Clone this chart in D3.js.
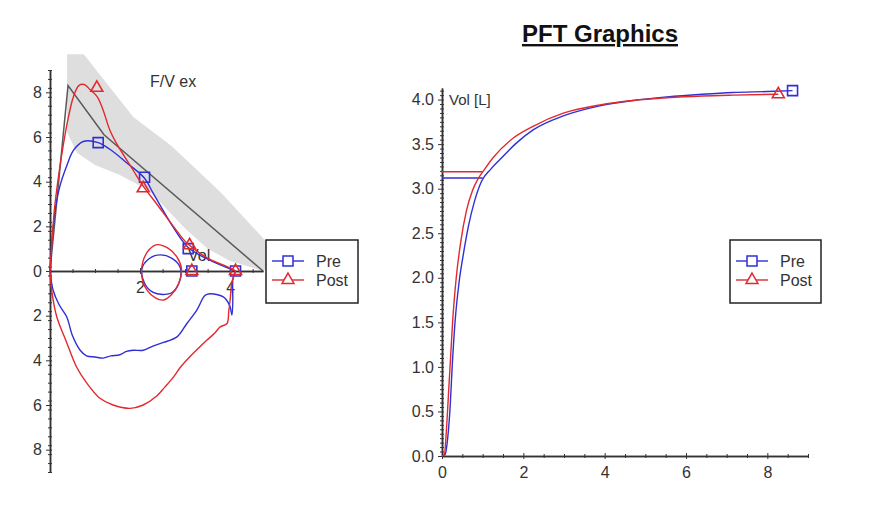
<!DOCTYPE html>
<html>
<head>
<meta charset="utf-8">
<script src="https://cdn.jsdelivr.net/npm/d3@7"></script>
<style>
  body { margin: 0; background: #fff; }
  svg { font-family: "Liberation Sans", Arial, sans-serif; }
  .tick text { fill: #333; font-size: 16px; }
  .axis path, .axis line { stroke: #333; }
</style>
</head>
<body>
<script>
// PFT Graphics: flow/volume loop (left) and volume/time curve (right)

// ---- flow / volume data (x = Vol [L], y = flow [L/s], inspiration negative)
let fvPreExp = [[0, 0], [0.05, 1.5], [0.12, 2.8], [0.22, 3.8], [0.37, 4.7], [0.52, 5.4], [0.74, 5.8], [1.07, 5.75],
  [1.33, 5.45], [1.7, 4.85], [2.1, 4.15], [2.3, 3.45], [2.74, 1.95], [3.07, 1.05], [3.48, 0.55], [3.9, 0.18], [4.12, 0]]
let fvPostExp = [[0, 0], [0.04, 1.2], [0.1, 2.8], [0.2, 4.4], [0.3, 5.7], [0.4, 6.8], [0.52, 7.8], [0.64, 8.3],
  [0.76, 8.35], [0.9, 8.1], [1.05, 7.8], [1.18, 7.2], [1.33, 6.3], [1.48, 5.7], [1.85, 4.5], [2.07, 3.8],
  [2.37, 3.0], [2.74, 2.0], [3.04, 1.25], [3.48, 0.6], [3.93, 0.2], [4.12, 0]]
let fvPreInsp = [[0, 0], [0.07, -0.86], [0.2, -1.5], [0.37, -2.05], [0.5, -2.9], [0.67, -3.55], [0.81, -3.8],
  [1.0, -3.85], [1.18, -3.9], [1.35, -3.8], [1.55, -3.75], [1.7, -3.6], [1.85, -3.55], [2.07, -3.55],
  [2.3, -3.35], [2.52, -3.2], [2.82, -2.95], [3.04, -2.35], [3.26, -1.75], [3.44, -1.1], [3.55, -1.02],
  [3.7, -1.05], [3.84, -1.15], [3.92, -1.3], [4.0, -1.6], [4.04, -1.97], [4.06, -1.2], [4.05, -0.5], [4.12, 0]]
let fvPostInsp = [[0, 0], [0.04, -0.9], [0.15, -2.05], [0.37, -3.2], [0.59, -4.3], [0.81, -5.0], [1.11, -5.7],
  [1.4, -6.0], [1.78, -6.15], [2.07, -6.0], [2.37, -5.6], [2.55, -5.2], [2.74, -4.75], [2.9, -4.3], [3.1, -3.85],
  [3.3, -3.45], [3.48, -3.1], [3.65, -2.8], [3.78, -2.5], [3.93, -2.35], [3.97, -1.8], [4.0, -1.3],
  [4.04, -0.5], [4.12, 0]]
let fvPreTidal = [[2.04, 0.1], [2.2, 0.55], [2.44, 0.72], [2.7, 0.58], [2.89, 0.17], [2.88, -0.45],
  [2.72, -0.95], [2.5, -1.05], [2.28, -0.95], [2.1, -0.55]]
let fvPostTidal = [[2.06, 0.4], [2.2, 0.95], [2.38, 1.18], [2.62, 1.02], [2.82, 0.62], [2.92, 0.1], [2.86, -0.55],
  [2.7, -1.05], [2.52, -1.3], [2.34, -1.2], [2.15, -0.85], [2.04, -0.25]]
let fvPreMarkers = [[1.07, 5.75], [2.1, 4.2], [3.07, 1.0], [3.15, 0], [4.12, 0]]
let fvPostMarkers = [[1.04, 8.2], [2.07, 3.7], [3.1, 1.15], [3.15, 0], [4.12, 0]]
// predicted curve and normal band
let fvPredicted = [[0, 0], [0.4, 8.3], [1.2, 6.1], [4.73, 0]]
let bandUpper = [[0.38, 9.7], [0.75, 9.7], [1.85, 6.9], [2.7, 5.6], [3.8, 3.5], [4.95, 1.0], [4.95, 0.3]]
let bandLower = [[0.38, 6.2], [0.6, 5.3], [1.0, 4.75], [1.55, 4.3], [2.2, 3.6], [3.0, 1.9], [3.5, 1.0],
  [4.0, 0.45], [4.73, 0]]

// ---- volume / time data (x = time [s], y = Vol [L])
let vtPre = [[0, 0], [0.08, 0.02], [0.14, 0.2], [0.2, 0.55], [0.25, 1.0], [0.32, 1.5], [0.42, 1.95],
  [0.52, 2.25], [0.65, 2.58], [0.8, 2.86], [0.97, 3.08], [1.2, 3.22], [1.43, 3.33], [1.8, 3.5], [2.24, 3.66],
  [3.0, 3.82], [3.88, 3.93], [4.7, 3.99], [5.53, 4.03], [6.4, 4.06], [7.15, 4.08], [8.0, 4.09], [8.62, 4.1]]
let vtPost = [[0, 0], [0.06, 0.02], [0.11, 0.3], [0.16, 0.7], [0.21, 1.1], [0.26, 1.5], [0.35, 2.0],
  [0.46, 2.4], [0.6, 2.75], [0.75, 2.98], [0.9, 3.12], [1.05, 3.22], [1.26, 3.35], [1.7, 3.55], [2.24, 3.7],
  [3.0, 3.85], [3.88, 3.94], [4.7, 3.99], [5.53, 4.02], [6.4, 4.04], [7.15, 4.05], [8.27, 4.06]]
let fev1Pre = 3.12
let fev1Post = 3.19

let seriesNames = ['Pre', 'Post']
let seriesColors = ['#2f2fd6', '#e02a2e']

let width = 879
let height = 522
let svg = d3.select('body').append('svg').attr('width', width).attr('height', height)

// scales
let xL = d3.scaleLinear().domain([0, 4.73]).range([50, 263])
let yL = d3.scaleLinear().domain([-9, 9]).range([472, 70])
let xR = d3.scaleLinear().domain([0, 9]).range([442, 808])
let yR = d3.scaleLinear().domain([0, 4.13]).range([456, 88])

let lineL = d3.line().x(d => xL(d[0])).y(d => yL(d[1]))
let symSquare = d3.symbol().type(d3.symbolSquare).size(100)
let symTriangle = d3.symbol().type(d3.symbolTriangle).size(62)

// title
svg.append('text')
  .attr('x', 600).attr('y', 42)
  .attr('text-anchor', 'middle')
  .attr('font-size', 24).attr('font-weight', 'bold')
  .attr('text-decoration', 'underline')
  .attr('fill', '#111')
  .text('PFT Graphics')

// ================= left: flow / volume =================
let left = svg.append('g')

// normal band
left.append('path')
  .attr('d', lineL(bandUpper.concat(bandLower.slice().reverse())) + 'Z')
  .attr('fill', '#dedede')

left.append('path')
  .attr('d', lineL(fvPredicted))
  .attr('fill', 'none').attr('stroke', '#5a5a5a').attr('stroke-width', 1.5)

// axes: ticks cross the axis line
function crossTicks (g, k) {
  g.selectAll('.tick line').each(function () {
    let l = d3.select(this)
    if (l.attr('x2') !== null && +l.attr('x2') !== 0) l.attr('x1', k)
    else l.attr('y1', -k)
  })
}
let minorL = d3.range(-9, 9.01, 0.4).map(v => +v.toFixed(2)).filter(v => Math.abs(v % 2) > 0.01)
left.append('g').attr('class', 'axis')
  .attr('transform', 'translate(' + xL(0) + ',0)')
  .call(d3.axisLeft(yL).tickValues(minorL).tickSize(2).tickSizeOuter(0).tickFormat(''))
  .call(g => crossTicks(g, 2))
left.append('g').attr('class', 'axis')
  .attr('transform', 'translate(' + xL(0) + ',0)')
  .call(d3.axisLeft(yL).tickValues(d3.range(-8, 9, 2)).tickSize(4).tickSizeOuter(0).tickPadding(4)
    .tickFormat(d => Math.abs(d)))
  .call(g => crossTicks(g, 2))
left.append('g').attr('class', 'axis')
  .attr('transform', 'translate(0,' + yL(0) + ')')
  .call(d3.axisBottom(xL).tickValues([0.5, 1, 1.5, 2.5, 3, 3.5, 4.5]).tickSize(2).tickSizeOuter(0).tickFormat(''))
  .call(g => crossTicks(g, 2))
left.append('g').attr('class', 'axis')
  .attr('transform', 'translate(0,' + yL(0) + ')')
  .call(d3.axisBottom(xL).tickValues([2, 4]).tickSize(3).tickSizeOuter(0).tickPadding(8)
    .tickFormat(d3.format('d')))
  .call(g => crossTicks(g, 3))
left.selectAll('.axis path').attr('stroke-width', 1.5)

left.append('text').attr('x', 150).attr('y', 87).attr('font-size', 16).attr('fill', '#333').text('F/V ex')
left.append('text').attr('x', 188).attr('y', 261).attr('font-size', 16).attr('fill', '#333').text('Vol')

// curves
let fvSets = [
  [fvPreExp, fvPreInsp, fvPreTidal, fvPreMarkers],
  [fvPostExp, fvPostInsp, fvPostTidal, fvPostMarkers]
]
fvSets.forEach((set, i) => {
  let c = seriesColors[i]
  left.append('path').attr('d', d3.line().x(d => xL(d[0])).y(d => yL(d[1])).curve(d3.curveCatmullRom)(set[0]))
    .attr('fill', 'none').attr('stroke', c).attr('stroke-width', 1.4)
  left.append('path').attr('d', d3.line().x(d => xL(d[0])).y(d => yL(d[1])).curve(d3.curveCatmullRom)(set[1]))
    .attr('fill', 'none').attr('stroke', c).attr('stroke-width', 1.4)
  left.append('path').attr('d', d3.line().x(d => xL(d[0])).y(d => yL(d[1])).curve(d3.curveCatmullRomClosed)(set[2]))
    .attr('fill', 'none').attr('stroke', c).attr('stroke-width', 1.4)
  left.selectAll('.mk' + i).data(set[3]).enter().append('path')
    .attr('transform', d => 'translate(' + xL(d[0]) + ',' + yL(d[1]) + ')')
    .attr('d', i === 0 ? symSquare : symTriangle)
    .attr('fill', 'none').attr('stroke', c).attr('stroke-width', 1.6)
})

// legend drawer
function legend (x, y, w, h) {
  let g = svg.append('g').attr('transform', 'translate(' + x + ',' + y + ')')
  g.append('rect').attr('width', w).attr('height', h)
    .attr('fill', '#fff').attr('stroke', '#222').attr('stroke-width', 1.5)
  seriesNames.forEach((name, i) => {
    let yy = 21 + i * 19
    g.append('line').attr('x1', 6).attr('x2', 38).attr('y1', yy).attr('y2', yy)
      .attr('stroke', seriesColors[i]).attr('stroke-width', 1.4)
    g.append('path').attr('transform', 'translate(22,' + yy + ')')
      .attr('d', i === 0 ? symSquare : symTriangle)
      .attr('fill', '#fff').attr('stroke', seriesColors[i]).attr('stroke-width', 1.5)
    g.append('text').attr('x', 50).attr('y', yy).attr('dy', '0.35em')
      .attr('font-size', 16).attr('fill', '#333').text(name)
  })
}
legend(266, 240, 92, 63)

// ================= right: volume / time =================
let right = svg.append('g')
let minorRy = d3.range(0, 4.131, 0.05).map(v => +v.toFixed(2)).filter(v => Math.abs(v * 2 - Math.round(v * 2)) > 0.01)
right.append('g').attr('class', 'axis')
  .attr('transform', 'translate(' + xR(0) + ',0)')
  .call(d3.axisLeft(yR).tickValues(minorRy).tickSize(2).tickSizeOuter(0).tickFormat(''))
  .call(g => crossTicks(g, 2))
right.append('g').attr('class', 'axis')
  .attr('transform', 'translate(' + xR(0) + ',0)')
  .call(d3.axisLeft(yR).tickValues(d3.range(0, 4.01, 0.5)).tickSize(4).tickSizeOuter(0).tickPadding(4)
    .tickFormat(d3.format('.1f')))
  .call(g => crossTicks(g, 2))
right.append('g').attr('class', 'axis')
  .attr('transform', 'translate(0,' + yR(0) + ')')
  .call(d3.axisBottom(xR).tickValues(d3.range(0.5, 9.01, 0.5).filter(v => v % 2 !== 0)).tickSize(2)
    .tickSizeOuter(0).tickFormat(''))
  .call(g => crossTicks(g, 2))
right.append('g').attr('class', 'axis')
  .attr('transform', 'translate(0,' + yR(0) + ')')
  .call(d3.axisBottom(xR).tickValues([0, 2, 4, 6, 8]).tickSize(3).tickSizeOuter(0).tickPadding(8))
  .call(g => crossTicks(g, 3))
right.selectAll('.axis path').attr('stroke-width', 1.5)

right.append('text').attr('x', 449).attr('y', 105).attr('font-size', 15).attr('fill', '#333').text('Vol [L]')

let lineR = d3.line().x(d => xR(d[0])).y(d => yR(d[1])).curve(d3.curveMonotoneX)
let vtSets = [[vtPre, fev1Pre], [vtPost, fev1Post]]
vtSets.forEach((set, i) => {
  let c = seriesColors[i]
  right.append('path').attr('d', lineR(set[0]))
    .attr('fill', 'none').attr('stroke', c).attr('stroke-width', 1.4)
  right.append('line')
    .attr('x1', xR(0)).attr('x2', xR(1)).attr('y1', yR(set[1])).attr('y2', yR(set[1]))
    .attr('stroke', c).attr('stroke-width', 1.4)
  let last = set[0][set[0].length - 1]
  right.append('path')
    .attr('transform', 'translate(' + xR(last[0]) + ',' + yR(last[1]) + ')')
    .attr('d', i === 0 ? symSquare : symTriangle)
    .attr('fill', 'none').attr('stroke', c).attr('stroke-width', 1.6)
})

legend(730, 240, 91, 63)
</script>
</body>
</html>
